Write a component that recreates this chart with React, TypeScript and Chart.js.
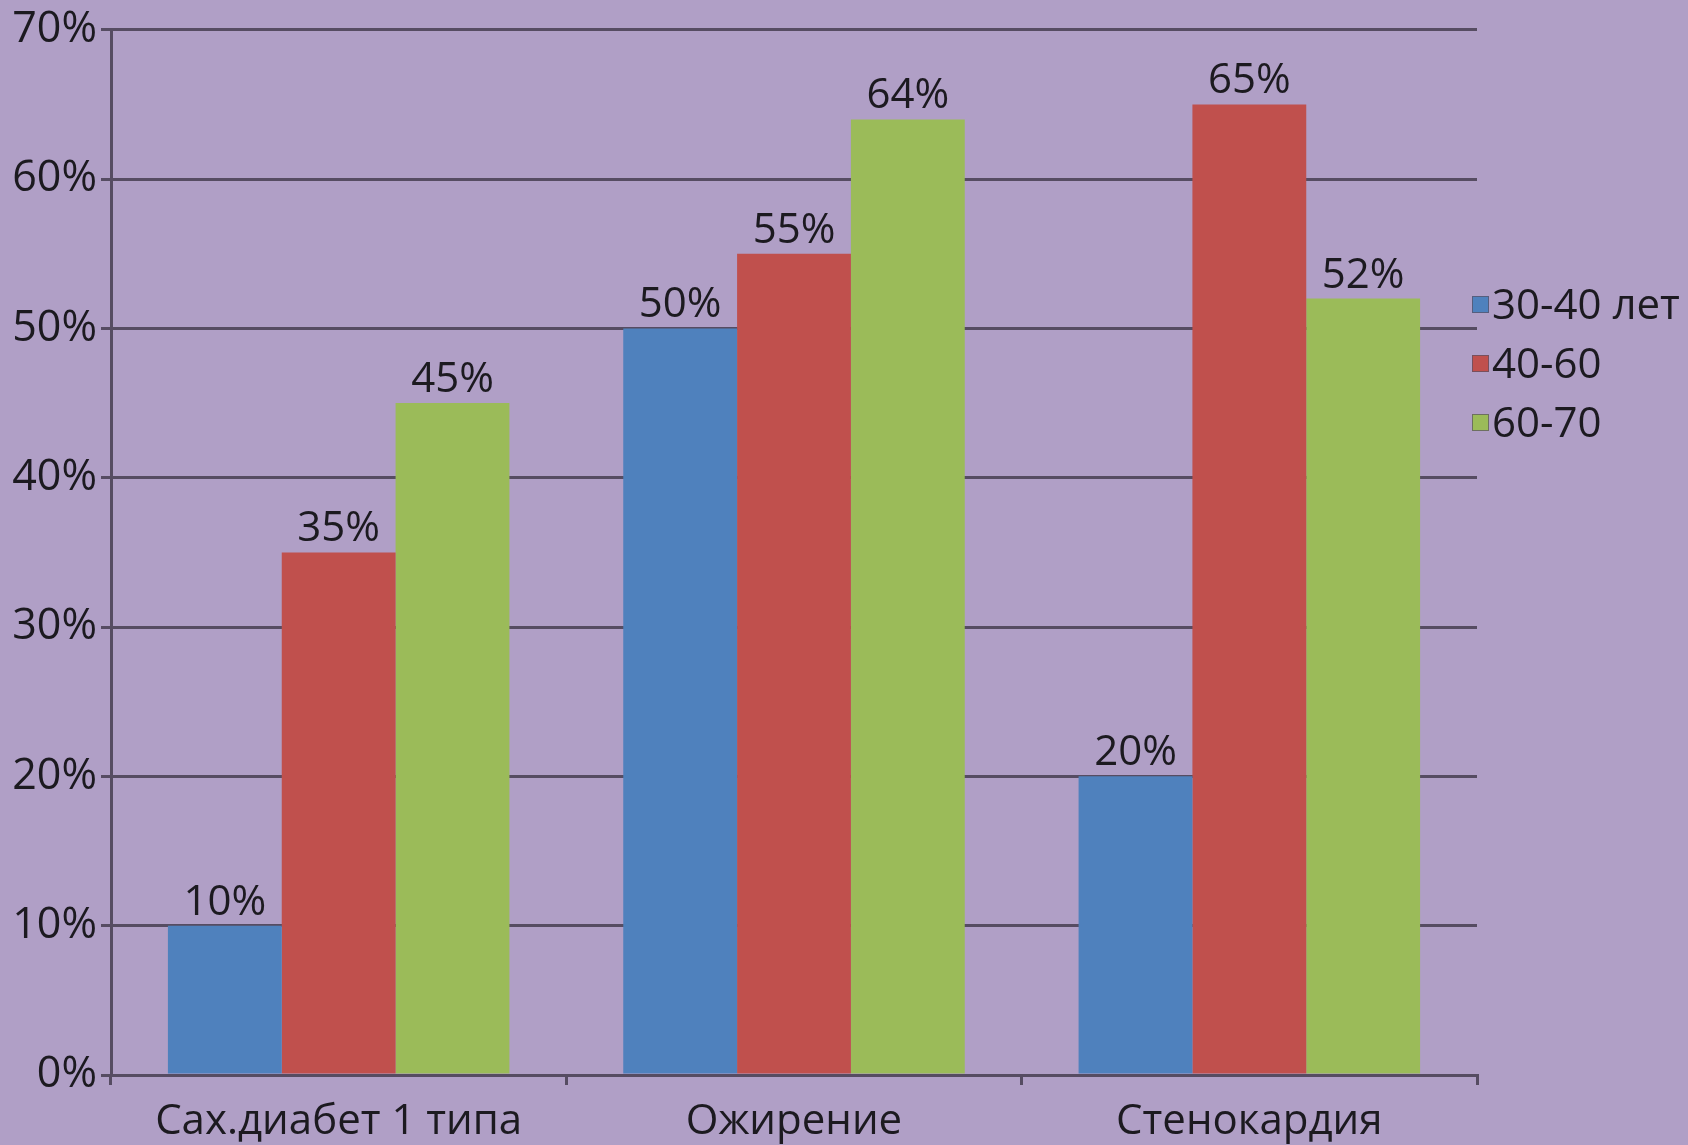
import React, { useEffect, useRef } from "react";
import { Chart, registerables } from "chart.js";

Chart.register(...registerables);

const categories = ["Сах.диабет 1 типа", "Ожирение", "Стенокардия"];
const seriesLabels = ["30-40 лет", "40-60", "60-70"];
const values3040 = [10, 50, 20];
const values4060 = [35, 55, 65];
const values6070 = [45, 64, 52];
const yTickValues = [0, 10, 20, 30, 40, 50, 60, 70];

const seriesColors = ["#4f81bd", "#c0504d", "#9bbb59"];
const BG = "#b09fc6";
const GRID = "#564c62";
const TEXT = "#1c1a20";
const FONT = "'Open Sans', 'Noto Sans', sans-serif";

const W = 1688;
const H = 1145;

export default function App() {
  const ref = useRef<HTMLCanvasElement | null>(null);

  useEffect(() => {
    const canvas = ref.current;
    if (!canvas) return;

    const bgPlugin = {
      id: "bgFill",
      beforeDraw(chart: any) {
        const c = chart.ctx;
        c.save();
        c.fillStyle = BG;
        c.fillRect(0, 0, chart.width, chart.height);
        c.restore();
      },
    };

    const valueLabels = {
      id: "valueLabels",
      afterDatasetsDraw(chart: any) {
        const c = chart.ctx;
        c.save();
        c.font = `42px ${FONT}`;
        c.fillStyle = TEXT;
        c.textAlign = "center";
        c.textBaseline = "alphabetic";
        chart.data.datasets.forEach((ds: any, i: number) => {
          const meta = chart.getDatasetMeta(i);
          meta.data.forEach((bar: any, j: number) => {
            c.fillText(`${ds.data[j]}%`, bar.x, bar.y - 11);
          });
        });
        c.restore();
      },
    };

    const sideLegend = {
      id: "sideLegend",
      afterDraw(chart: any) {
        const c = chart.ctx;
        const area = chart.chartArea;
        c.save();
        c.font = `42px ${FONT}`;
        c.textAlign = "left";
        c.textBaseline = "middle";
        chart.data.datasets.forEach((ds: any, i: number) => {
          const cy = 305 + i * 59;
          const sx = area.right - 5;
          c.fillStyle = ds.backgroundColor;
          c.fillRect(sx, cy - 9, 17, 17);
          c.strokeStyle = "rgba(90,80,100,0.7)";
          c.lineWidth = 1;
          c.strokeRect(sx + 0.5, cy - 8.5, 16, 16);
          c.fillStyle = TEXT;
          c.fillText(ds.label, sx + 20, cy + 2);
        });
        c.restore();
      },
    };

    const chart = new Chart(canvas, {
      type: "bar",
      data: {
        labels: categories,
        datasets: [values3040, values4060, values6070].map((vals, i) => ({
          label: seriesLabels[i],
          data: vals,
          backgroundColor: seriesColors[i],
          borderWidth: 0,
          categoryPercentage: 0.75,
          barPercentage: 1.0,
        })),
      },
      options: {
        responsive: false,
        animation: false,
        devicePixelRatio: 1,
        layout: { padding: { top: 29, right: 211, left: 0, bottom: 0 } },
        plugins: {
          legend: { display: false },
          tooltip: { enabled: false },
        },
        scales: {
          x: {
            offset: true,
            grid: {
              offset: true,
              drawOnChartArea: false,
              drawTicks: true,
              tickLength: 10,
              color: GRID,
              lineWidth: 3,
            },
            border: { display: true, color: GRID, width: 3 },
            ticks: {
              font: { family: FONT, size: 42 },
              color: TEXT,
              padding: 12,
              maxRotation: 0,
              autoSkip: false,
            },
            afterFit: (s: any) => {
              s.height = 70;
            },
          },
          y: {
            min: 0,
            max: 70,
            afterBuildTicks: (s: any) => {
              s.ticks = yTickValues.map((v) => ({ value: v }));
            },
            ticks: {
              font: { family: FONT, size: 43 },
              color: TEXT,
              padding: 4,
              callback: (v: any) => `${v}%`,
            },
            grid: {
              color: GRID,
              lineWidth: 3,
              drawTicks: true,
              tickLength: 10,
            },
            border: { display: true, color: GRID, width: 3 },
            afterFit: (s: any) => {
              s.width = 111;
            },
          },
        },
      },
      plugins: [bgPlugin, valueLabels, sideLegend],
    });

    return () => chart.destroy();
  }, []);

  return (
    <div style={{ position: "absolute", left: 0, top: 0, width: W, height: H, background: BG }}>
      <canvas ref={ref} width={W} height={H} style={{ display: "block", width: W, height: H }} />
    </div>
  );
}
